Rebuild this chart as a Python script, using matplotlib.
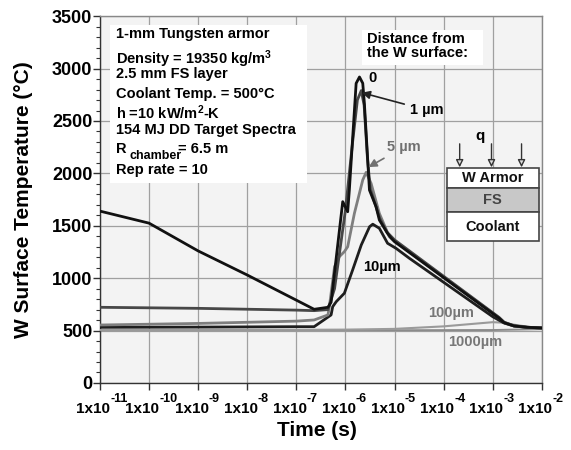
import numpy as np
import matplotlib
matplotlib.use("Agg")
import matplotlib.pyplot as plt
from matplotlib.patches import Rectangle

plt.rcParams['font.family'] = ['Liberation Sans', 'DejaVu Sans']
plt.rcParams['font.weight'] = 'bold'
plt.rcParams['mathtext.fontset'] = 'custom'
plt.rcParams['mathtext.bf'] = 'Liberation Sans:bold'
plt.rcParams['mathtext.rm'] = 'Liberation Sans:bold'
plt.rcParams['mathtext.default'] = 'bf'

# ---- data (time in s, temperature in deg C) ----
t_0um = [1e-11, 1e-10, 1e-9, 1e-8, 1e-7, 2.3e-7, 4.4e-7, 5.1e-7, 8.8e-7, 1.11e-6, 1.2e-6,
         1.65e-6, 1.93e-6, 2.25e-6, 2.43e-6, 2.84e-6, 3.08e-6, 4.2e-6, 4.9e-6, 7.1e-6,
         8.5e-6, 1e-5, 1.35e-3, 1.7e-3, 2.7e-3, 5e-3, 1e-2]
T_0um = [1640, 1525, 1260, 1030, 790, 703, 722, 770, 1730, 1634, 1841,
         2859, 2920, 2860, 2668, 2127, 1841, 1682, 1555, 1431,
         1383, 1348, 617, 575, 544, 531, 525]

t_1um = [1e-11, 1e-9, 1e-7, 2.3e-7, 4.4e-7, 6e-7, 1e-6, 1.4e-6, 1.75e-6, 2.1e-6, 2.4e-6,
         2.8e-6, 3.2e-6, 4.2e-6, 5e-6, 7e-6, 1e-5, 1.35e-3, 1.7e-3, 2.7e-3, 5e-3, 1e-2]
T_1um = [722, 712, 695, 690, 700, 900, 1650, 2300, 2700, 2790, 2650,
         2150, 1850, 1680, 1570, 1440, 1365, 625, 580, 546, 532, 525]

t_5um = [1e-11, 1e-9, 1e-7, 2.3e-7, 4.4e-7, 4.7e-7, 6e-7, 7.5e-7, 9.5e-7, 1.11e-6, 1.52e-6,
         2.25e-6, 2.64e-6, 3.33e-6, 4.9e-6, 7.8e-6, 1e-5, 1.35e-3, 1.7e-3, 2.7e-3, 5e-3, 1e-2]
T_5um = [553, 568, 590, 601, 649, 728, 1110, 1205, 1253, 1300, 1618,
         1937, 2010, 1904, 1618, 1396, 1355, 620, 578, 545, 532, 525]

t_10um = [1e-11, 1e-9, 1e-7, 2.3e-7, 5.1e-7, 5.5e-7, 6.5e-7, 9.5e-7, 1.4e-6, 2.1e-6, 3.1e-6,
          3.6e-6, 4.9e-6, 7.2e-6, 1.07e-5, 2e-5, 1e-3, 1.7e-3, 2.7e-3, 5e-3, 1e-2]
T_10um = [531, 533, 537, 537, 649, 728, 776, 856, 1078, 1317, 1491,
          1515, 1476, 1333, 1285, 1190, 632, 572, 543, 530, 524]

t_100um = [1e-11, 1e-7, 1e-6, 1e-5, 1e-4, 5e-4, 1e-3, 1.5e-3, 3e-3, 6e-3, 1e-2]
T_100um = [506, 507, 509, 516, 540, 568, 580, 576, 553, 532, 522]

t_1000um = [1e-11, 1e-5, 1e-3, 3e-3, 1e-2]
T_1000um = [503, 503, 505, 509, 514]

decades = [-11, -10, -9, -8, -7, -6, -5, -4, -3, -2]

# ---- figure ----
fig = plt.figure(figsize=(5.71, 4.50), dpi=100)
ax = fig.add_axes([0.175, 0.149, 0.774, 0.815])
ax.set_facecolor('#f3f3f3')

ax.plot(t_1000um, T_1000um, color='#8a8a8a', lw=1.4, zorder=3)
ax.plot(t_100um, T_100um, color='#9a9a9a', lw=1.5, zorder=3)
ax.plot(t_10um, T_10um, color='#1e1e1e', lw=2.0, zorder=4)
ax.plot(t_5um, T_5um, color='#7e7e7e', lw=2.0, zorder=4)
ax.plot(t_1um, T_1um, color='#474747', lw=2.0, zorder=5)
ax.plot(t_0um, T_0um, color='#111111', lw=2.0, zorder=6)

ax.set_xscale('log')
ax.set_xlim(1e-11, 1e-2)
ax.set_ylim(0, 3500)
ax.set_xticks([10.0 ** d for d in decades])
ax.set_xticklabels([])
ax.set_yticks(np.arange(0, 3501, 500))
ax.set_yticks(np.arange(0, 3501, 100), minor=True)
ax.tick_params(axis='both', which='major', direction='out', length=5, width=1,
               color='#333333')
ax.tick_params(axis='y', which='major', labelsize=13, pad=0.5)
ax.tick_params(axis='both', which='minor', direction='out', length=3, width=0.8,
               color='#333333')
ax.tick_params(axis='x', which='minor', labelbottom=False)
ax.grid(True, which='major', color='#a0a0a0', lw=0.9)
ax.set_axisbelow(True)
for s in ['left', 'bottom']:
    ax.spines[s].set_color('#333333')
    ax.spines[s].set_linewidth(1.0)
for s in ['top', 'right']:
    ax.spines[s].set_color('#888888')
    ax.spines[s].set_linewidth(1.0)

# x tick labels "1x10" with a raised exponent
for d in decades:
    ax.annotate('1x10', xy=(10.0 ** d, 0), xycoords=('data', 'axes fraction'),
                xytext=(7.5, -21.6), textcoords='offset points',
                fontsize=11, fontweight='bold', ha='right', va='baseline',
                annotation_clip=False)
    ax.annotate('%d' % d, xy=(10.0 ** d, 0), xycoords=('data', 'axes fraction'),
                xytext=(7.5, -13.7), textcoords='offset points',
                fontsize=9, fontweight='bold', ha='left', va='baseline',
                annotation_clip=False)

ax.set_xlabel('Time (s)', fontsize=15, fontweight='bold')
ax.set_ylabel('W Surface Temperature (°C)', fontsize=15, fontweight='bold')
ax.xaxis.set_label_coords(0.49, -0.103)
ax.yaxis.set_label_coords(-0.152, 0.5)

# ---- info box ----
ax.add_patch(Rectangle((0.023, 0.545), 0.445, 0.43, transform=ax.transAxes,
                       facecolor='white', edgecolor='none', zorder=7))
info = [('1-mm Tungsten armor', 0.036, 0.941),
        ('Density = 19350 kg/m$^{3}$', 0.036, 0.869),
        ('2.5 mm FS layer', 0.036, 0.831),
        ('Coolant Temp. = 500°C', 0.036, 0.778),
        ('h =10 kW/m$^{2}$-K', 0.036, 0.719),
        ('154 MJ DD Target Spectra', 0.036, 0.678),
        ('R', 0.036, 0.628),
        ('= 6.5 m', 0.176, 0.628),
        ('Rep rate = 10', 0.036, 0.569)]
for txt, xx, yy in info:
    ax.text(xx, yy, txt, transform=ax.transAxes, fontsize=10.5, fontweight='bold',
            va='baseline', ha='left', zorder=8)
ax.text(0.066, 0.611, 'chamber', transform=ax.transAxes, fontsize=9, fontweight='bold',
        va='baseline', ha='left', zorder=8)

# ---- distance header ----
ax.add_patch(Rectangle((0.593, 0.866), 0.274, 0.096, transform=ax.transAxes,
                       facecolor='white', edgecolor='none', zorder=7))
ax.text(0.604, 0.918, 'Distance from\nthe W surface:', transform=ax.transAxes,
        fontsize=10.5, fontweight='bold', va='center', ha='left', linespacing=1.0, zorder=8)

# ---- curve labels ----
ax.text(0.607, 0.831, '0', transform=ax.transAxes, fontsize=10.5, fontweight='bold',
        va='center', ha='left', zorder=8)
ax.annotate('1 µm', xy=(2.15e-6, 2770), xytext=(0.701, 0.744), textcoords='axes fraction',
            fontsize=10.5, fontweight='bold', va='center', ha='left', zorder=8,
            arrowprops=dict(arrowstyle='-|>', color='#222222', lw=1.2,
                            mutation_scale=12, shrinkA=2, shrinkB=0))
ax.annotate('5 µm', xy=(2.95e-6, 2060), xytext=(0.649, 0.643), textcoords='axes fraction',
            fontsize=10.5, fontweight='bold', va='center', ha='left', color='#707070', zorder=8,
            arrowprops=dict(arrowstyle='-|>', color='#707070', lw=1.2,
                            mutation_scale=12, shrinkA=2, shrinkB=0))
ax.text(0.638, 0.316, '10µm', transform=ax.transAxes, fontsize=10.5, fontweight='bold',
        va='center', ha='center', zorder=8)
ax.text(0.742, 0.191, '100µm', transform=ax.transAxes, fontsize=10.5, fontweight='bold',
        va='center', ha='left', color='#777777', zorder=8)
ax.text(0.787, 0.112, '1000µm', transform=ax.transAxes, fontsize=10.5, fontweight='bold',
        va='center', ha='left', color='#777777', zorder=8)

# ---- layer diagram ----
x0, x1 = 0.785, 0.993
layers = [(0.531, 0.055, 'white', 'W Armor', '#111111'),
          (0.466, 0.065, '#c8c8c8', 'FS', '#444444'),
          (0.387, 0.079, 'white', 'Coolant', '#111111')]
for yb, h, fc, lab, tc in layers:
    ax.add_patch(Rectangle((x0, yb), x1 - x0, h, transform=ax.transAxes,
                           facecolor=fc, edgecolor='#444444', lw=1.2, zorder=8))
    ax.text((x0 + x1) / 2, yb + h / 2, lab, transform=ax.transAxes, fontsize=10.5,
            fontweight='bold', ha='center', va='center', color=tc, zorder=9)
for xa in [0.814, 0.886, 0.954]:
    ax.annotate('', xy=(xa, 0.588), xytext=(xa, 0.652), xycoords='axes fraction',
                arrowprops=dict(arrowstyle='-|>', fc='#dddddd', ec='#333333', lw=1.0,
                                mutation_scale=11, shrinkA=0, shrinkB=0), zorder=9)
ax.text(0.860, 0.672, 'q', transform=ax.transAxes, fontsize=11, fontweight='bold',
        ha='center', va='center', zorder=9)

fig.savefig('out.png', dpi=100)
